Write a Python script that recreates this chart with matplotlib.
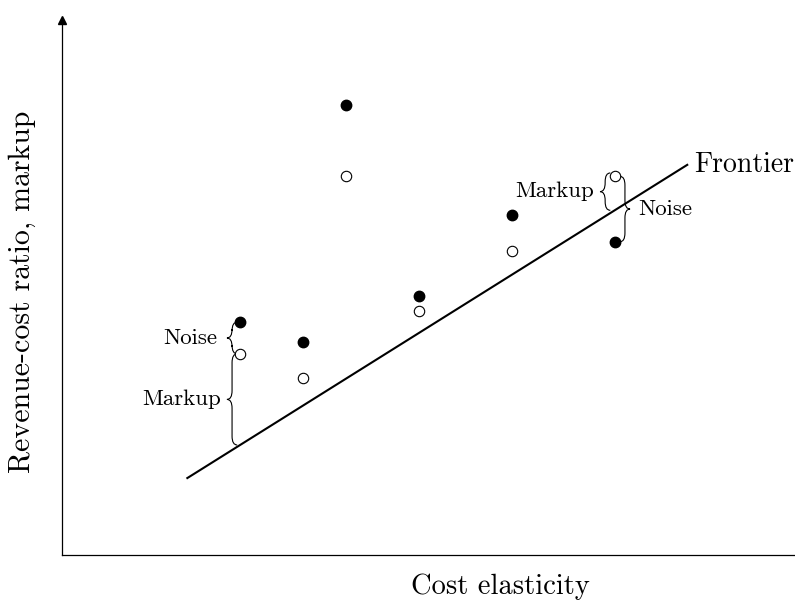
import numpy as np
import matplotlib
matplotlib.use("Agg")
import matplotlib.pyplot as plt
from matplotlib.path import Path
from matplotlib.patches import PathPatch

# firms: cost elasticity, observed ratio (filled) and true markup ratio (hollow)
elasticity = [2.43, 3.29, 3.87, 4.87, 6.14, 7.54]
observed = [3.45, 3.16, 6.67, 3.84, 5.04, 4.64]
markup = [2.98, 2.62, 5.61, 3.61, 4.50, 5.61]

# frontier line end points
frontier_x = [1.71, 8.53]
frontier_y = [1.14, 5.78]


def frontier_at(x):
    slope = (frontier_y[1] - frontier_y[0]) / (frontier_x[1] - frontier_x[0])
    return frontier_y[0] + slope * (x - frontier_x[0])


def brace(ax, x0, y1, y2, h, r=0.13):
    # vertical curly brace, tip points to -h side, ends hook to +h side
    lo, hi = min(y1, y2), max(y1, y2)
    ym = (lo + hi) / 2
    verts = [(x0 + h, hi), (x0, hi), (x0, hi - r),
             (x0, ym + r),
             (x0, ym), (x0 - h, ym),
             (x0, ym), (x0, ym - r),
             (x0, lo + r),
             (x0, lo), (x0 + h, lo)]
    codes = [Path.MOVETO, Path.CURVE3, Path.CURVE3,
             Path.LINETO,
             Path.CURVE3, Path.CURVE3,
             Path.CURVE3, Path.CURVE3,
             Path.LINETO,
             Path.CURVE3, Path.CURVE3]
    ax.add_patch(PathPatch(Path(verts, codes), fill=False, lw=0.8,
                           edgecolor="black", clip_on=False))
    return ym


plt.rcParams['font.family'] = ['cmr10', 'DejaVu Serif']
plt.rcParams['mathtext.fontset'] = 'cm'
plt.rcParams['axes.formatter.use_mathtext'] = True

fig = plt.figure(figsize=(7.95, 6.03), dpi=100)
ax = fig.add_axes([62 / 795, 48 / 603, 1 - 62 / 795, 535 / 603])
ax.set_xlim(0, 10)
ax.set_ylim(0, 535 / 67.5)

ax.plot(frontier_x, frontier_y, color="black", lw=1.5)
ax.plot(elasticity, observed, "o", color="black", ms=7.5)
ax.plot(elasticity, markup, "o", mfc="white", mec="black", mew=0.8, ms=7.5)

ax.text(frontier_x[1] + 0.1, frontier_y[1], "Frontier", fontsize=20,
        va="center", ha="left")

small = 16.5
# left firm: noise and markup braces
x0 = elasticity[0] - 0.11
ym = brace(ax, x0, observed[0], markup[0], 0.07)
ax.text(x0 - 0.2, ym, "Noise", fontsize=small, ha="right", va="center")
ym = brace(ax, x0, markup[0], frontier_at(elasticity[0]), 0.07)
ax.text(x0 - 0.15, ym, "Markup", fontsize=small, ha="right", va="center")

# right firm: markup brace on the left, noise brace on the right
x1 = elasticity[5] - 0.13
ym = brace(ax, x1, markup[5] + 0.05, frontier_at(elasticity[5]), 0.07)
ax.text(x1 - 0.15, ym, "Markup", fontsize=small, ha="right", va="center")
x2 = elasticity[5] + 0.14
ym = brace(ax, x2, markup[5], observed[5], -0.07)
ax.text(x2 + 0.18, ym, "Noise", fontsize=small, ha="left", va="center")

ax.spines['top'].set_visible(False)
ax.spines['right'].set_visible(False)
ax.spines['left'].set_linewidth(0.9)
ax.spines['bottom'].set_linewidth(0.9)
ax.set_xticks([])
ax.set_yticks([])
ax.plot(0, 1.0, "^", color="black", ms=6, transform=ax.get_xaxis_transform(),
        clip_on=False)

ax.set_xlabel("Cost elasticity", fontsize=20.5)
ax.xaxis.set_label_coords((500 - 62) / 733, -18 / 535)
ax.set_ylabel("Revenue-cost ratio, markup", fontsize=21.5)
ax.yaxis.set_label_coords(-26 / 733, (555 - 292) / 535)

fig.savefig("out.png", dpi=100)
